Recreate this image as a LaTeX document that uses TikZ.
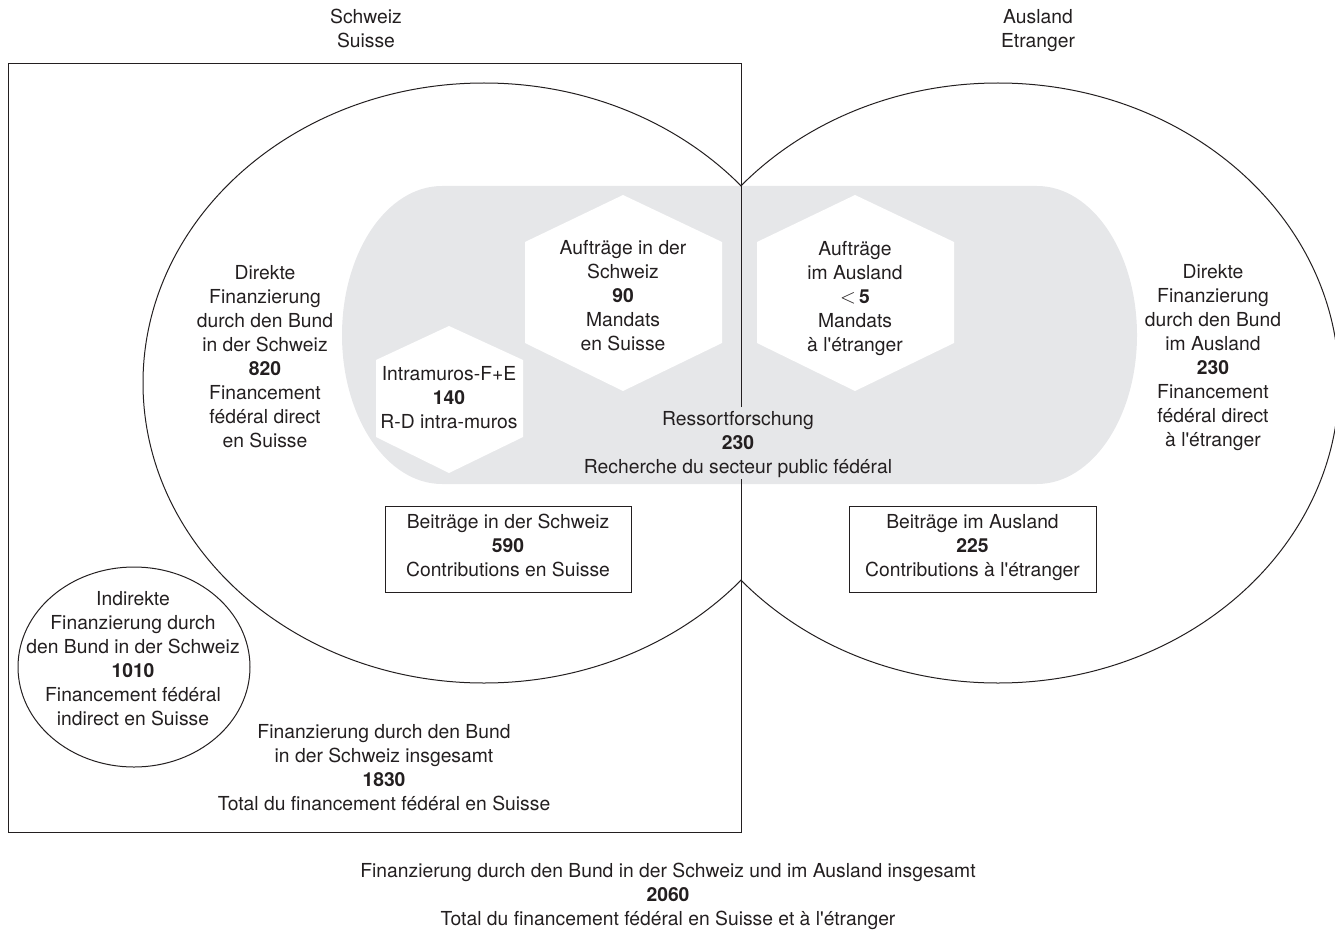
\documentclass[tikz,border=0pt]{standalone}
\usepackage{fontspec}
\setmainfont{TeX Gyre Heros}[Ligatures=TeXOff]
\definecolor{ink}{RGB}{35,31,32}
\definecolor{pale}{RGB}{230,231,233}
\tikzset{
  lbl/.style={align=center, font=\fontsize{19.3}{24}\selectfont, text=ink, inner sep=0pt,
    execute at begin node=\strut, execute at end node=\strut},
  frame/.style={draw=ink, line width=1pt},
  valbox/.style={lbl, draw=ink, line width=1pt, minimum height=86pt},
  hexa/.style={fill=white, draw=none}
}
\begin{document}
\begin{tikzpicture}[x=1pt,y=-1pt]
\useasboundingbox (0,0) rectangle (1335,944);
% grey band
\fill[pale] (442,186) -- (1037,186)
  arc[start angle=90, end angle=-90, x radius=100pt, y radius=149pt]
  -- (442,484)
  arc[start angle=270, end angle=90, x radius=100pt, y radius=149pt] -- cycle;
% hexagons
\fill[hexa] (623,195) -- (722,242) -- (722,343) -- (623,391) -- (525,343) -- (525,242) -- cycle;
\fill[hexa] (855,195) -- (954,242) -- (954,343) -- (855,391) -- (757,343) -- (757,242) -- cycle;
\fill[hexa] (449,326) -- (523,360) -- (523,437) -- (449,473) -- (376,437) -- (376,360) -- cycle;
% ellipses clipped at the border line
\begin{scope}
  \clip (0,0) rectangle (741,944);
  \draw[frame] (484,383) ellipse [x radius=341pt, y radius=300pt];
\end{scope}
\begin{scope}
  \clip (741,0) rectangle (1335,944);
  \draw[frame] (998,383) ellipse [x radius=341pt, y radius=300pt];
\end{scope}
% labels
\node[lbl] (ch) at (366,32) {Schweiz\\Suisse};
\node[lbl] (ausl) at (1038,32) {Ausland\\Etranger};
\node[lbl] (dirch) at (265,360) {Direkte\\Finanzierung\\durch den Bund\\in der Schweiz\\\textbf{820}\\Financement\\fédéral direct\\en Suisse};
\node[lbl] (dirausl) at (1213,359) {Direkte\\Finanzierung\\durch den Bund\\im Ausland\\\textbf{230}\\Financement\\fédéral direct\\à l'étranger};
\node[lbl] (aufch) at (623,299) {Aufträge in der\\Schweiz\\\textbf{90}\\Mandats\\en Suisse};
\node[lbl] (aufausl) at (855,300) {Aufträge\\im Ausland\\$<$\,\textbf{5}\\Mandats\\à l'étranger};
\node[lbl] (intra) at (449,401) {Intramuros-F+E\\\textbf{140}\\R-D intra-muros};
\node[lbl] (ress) at (738,446.5) {Ressortforschung\\\textbf{230}\\Recherche du secteur public fédéral};
\node[valbox, minimum width=246pt] (beich) at (508,549) {Beiträge in der Schweiz\\\textbf{590}\\Contributions en Suisse};
\node[valbox, minimum width=247pt] (beiausl) at (972.5,549) {Beiträge im Ausland\\\textbf{225}\\Contributions à l'étranger};
\draw[frame] (134,667) ellipse [x radius=116pt, y radius=100pt];
\node[lbl] (indir) at (133,662.5) {Indirekte\\Finanzierung durch\\den Bund in der Schweiz\\\textbf{1010}\\Financement fédéral\\indirect en Suisse};
\node[lbl] (totch) at (384,771.5) {Finanzierung durch den Bund\\in der Schweiz insgesamt\\\textbf{1830}\\Total du financement fédéral en Suisse};
\node[lbl] (tot) at (668,898) {Finanzierung durch den Bund in der Schweiz und im Ausland insgesamt\\\textbf{2060}\\Total du financement fédéral en Suisse et à l'étranger};
% Swiss frame, its right side broken at the Ressortforschung label
\coordinate (gapT) at (741,407);
\coordinate (gapB) at (741,479);
\draw[frame] (gapT) -- (741,64) -- (8,64) -- (8,832) -- (741,832) -- (gapB);
\end{tikzpicture}
\end{document}
